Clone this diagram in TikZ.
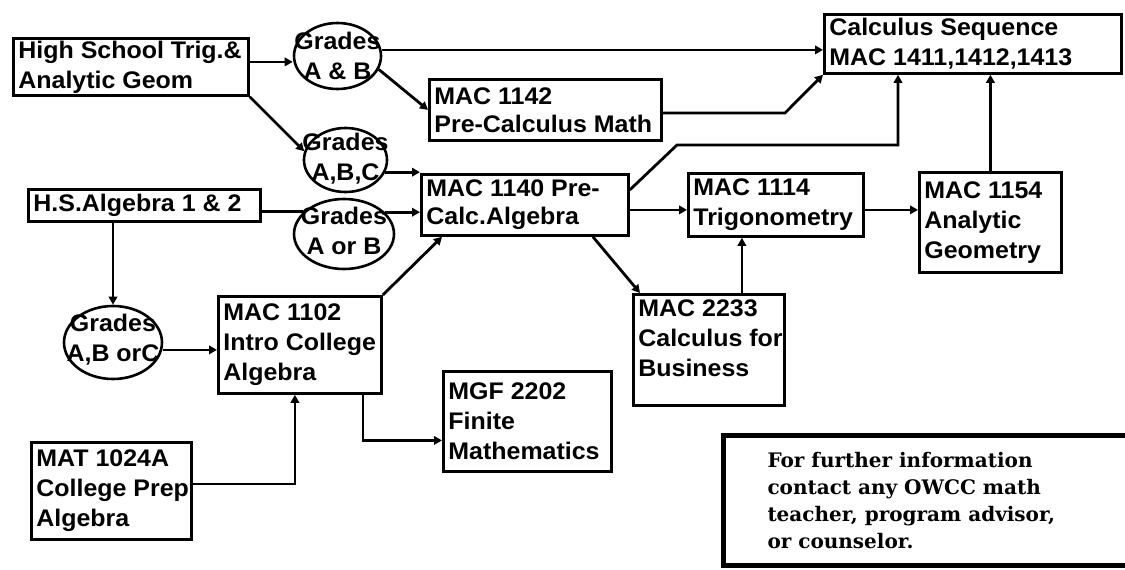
\documentclass[tikz,border=0pt]{standalone}
\usepackage{fontspec}
\setmainfont{Liberation Sans}[FakeStretch=1.04]
\newfontfamily\infofont{DejaVu Serif}
\usetikzlibrary{arrows.meta,shapes.geometric}
\newcommand\cbox[4][c]{\parbox[c][#3pt][#1]{#2pt}{\raggedright\leftskip=5pt\relax\hfuzz=20pt #4}}
\newcommand\gtxt[3][0pt]{\raise#1\hbox to 0pt{\hss\vbox to 0pt{\vss\hbox to 0pt{\hss#2\hss}\hbox to 0pt{\hss#3\hss}\vss}\hss}}
\begin{document}
\begin{tikzpicture}[x=1pt,y=-1pt,
  course/.style={draw, line width=2.8pt, inner sep=0pt, anchor=north west,
    font=\bfseries\fontsize{24}{30}\selectfont},
  grade/.style={draw, ellipse, line width=2.6pt, inner sep=0pt,
    font=\bfseries\fontsize{24}{30}\selectfont},
  arr/.style={line width=2.8pt, -{Triangle[length=8pt,width=8.5pt]}},
  ln/.style={line width=2.8pt},
  info/.style={draw, line width=5pt, inner sep=0pt, anchor=north west,
    font=\infofont\bfseries\fontsize{20}{27}\selectfont}]
\useasboundingbox (0,0) rectangle (1125,570);
\fill[white] (0,0) rectangle (1125,570);

% course boxes
\node[course] (hsTrig) at (12,37) {\cbox{235}{57}{High School Trig.\&\\Analytic Geom}};
\node[course] (calc) at (823,13) {\cbox{297}{59}{Calculus Sequence\\MAC 1411,1412,1413}};
\node[course] (m1142) at (428,78) {\cbox{232}{61}{\baselineskip=28pt MAC 1142\\Pre-Calculus Math}};
\node[course] (m1140) at (420,173) {\cbox{207}{61}{\baselineskip=28pt MAC 1140 Pre-\\Calc.Algebra}};
\node[course] (m1114) at (687,172) {\cbox{175}{63}{MAC 1114\\Trigonometry}};
\node[course] (m1154) at (918,171) {\cbox{142}{100}{MAC 1154\\Analytic\\Geometry}};
\node[course] (hsAlg) at (27,188) {\cbox{232}{32}{H.S.Algebra 1 \& 2}};
\node[course] (m1102) at (217,295) {\cbox{163}{97}{MAC 1102\\\mbox{Intro College}\\Algebra}};
\node[course] (m2233) at (632,293) {\cbox[t]{151}{111}{\vspace*{5pt}MAC 2233\\\mbox{Calculus for}\\Business}};
\node[course] (mgf) at (442,370) {\cbox{168}{100}{MGF 2202\\Finite\\Mathematics}};
\node[course] (mat) at (30,441) {\cbox{160}{97}{MAT 1024A\\\mbox{College Prep}\\Algebra}};

% grade ellipses
\node[grade, minimum width=87, minimum height=66] (gAB) at (337.5,56) {\gtxt[1pt]{Grades}{A \& B}};
\node[grade, minimum width=83, minimum height=64] (gABC) at (345.5,160) {\gtxt[3pt]{Grades}{A,B,C}};
\node[grade, minimum width=100, minimum height=70] (gAorB) at (344,234) {\gtxt[6pt]{Grades}{A or B}};
\node[grade, minimum width=98, minimum height=73] (gABorC) at (113,342.5) {\gtxt[5pt]{Grades}{A,B orC}};

% info box
\node[info] (info) at (721,433) {\parbox[c][130pt][c]{420pt}{\raggedright\leftskip=44pt\relax
  For further information\\contact any OWCC math\\teacher, program advisor,\\or counselor.}};

% connectors
\draw[arr] ([yshift=5pt]hsTrig.east) -- ([yshift=5pt]hsTrig.east -| gAB.west);
\draw[arr] ([yshift=-6pt]calc.west -| gAB.east) -- ([yshift=-6pt]calc.west);
\draw[arr] (gAB.-18) -- (m1142.west);
\draw[arr] (hsTrig.south east) -- (gABC.168);
\draw[arr] (gABC.-17) -- (gABC.-17 -| m1140.west);
\draw[ln] ([yshift=-6pt]hsAlg.east) -- ([yshift=-6pt]hsAlg.east -| gAorB.152);
\draw[arr] (gAorB.28) -- (gAorB.28 -| m1140.west);
\draw[arr] ([yshift=15pt]m1140.east) -- (677,145) -| ([xshift=75pt]calc.south west);
\draw[arr] ([yshift=-3pt]m1142.east) -- (785,113) -- (calc.south west);
\draw[arr] (m1154.north) -- (m1154.north |- calc.south);
\draw[arr] ([yshift=-5pt]m1140.east) -- ([yshift=-5pt]m1140.east -| m1114.west);
\draw[arr] ([yshift=-5pt]m1114.east) -- ([yshift=-5pt]m1114.east -| m1154.west);
\draw[arr] ([xshift=33pt]m2233.north) -- ([xshift=33pt]m2233.north |- m1114.south);
\draw[arr] ([xshift=68pt]m1140.south) -- ([xshift=8pt]m2233.north west);
\draw[arr] (gABorC.north |- hsAlg.south) -- (gABorC.north);
\draw[arr] ([yshift=-5pt]m1102.west -| gABorC.east) -- ([yshift=-5pt]m1102.west);
\draw[arr] (m1102.north east) -- ([xshift=22pt]m1140.south west);
\draw[arr] ([xshift=63pt]m1102.south) |- ([yshift=-19pt]mgf.west);
\draw[arr] ([yshift=7pt]mat.east) -| ([xshift=-5pt]m1102.south);
\end{tikzpicture}
\end{document}
